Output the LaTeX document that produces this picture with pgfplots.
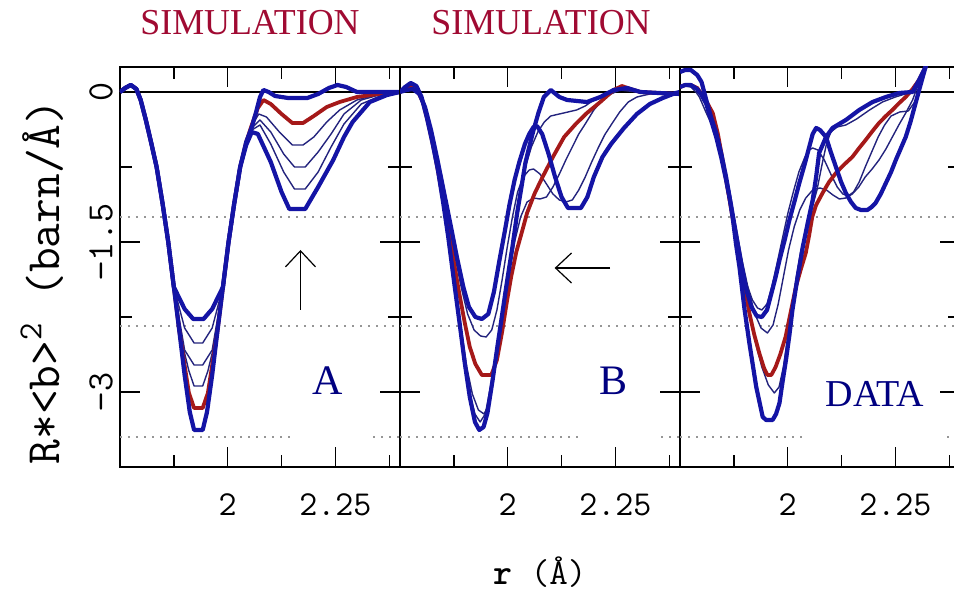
\documentclass[border=0pt]{standalone}
\usepackage{fontspec}
\setmainfont{Liberation Serif}
\usepackage{pgfplots}
\pgfplotsset{compat=1.18}
\usetikzlibrary{arrows.meta}
\definecolor{thickblue}{RGB}{20,20,165}
\definecolor{thinblue}{RGB}{35,35,125}
\definecolor{curvered}{RGB}{165,25,25}
\definecolor{simred}{RGB}{160,10,50}
\definecolor{labblue}{RGB}{0,0,128}
\definecolor{dotgray}{RGB}{150,150,150}
\pgfplotsset{
 panel/.style={
  scale only axis, width=140pt, height=200pt, anchor=south west,
  xmin=1.75, xmax=2.4, ymin=-3.75, ymax=0.25,
  xtick={2,2.25}, minor xtick={1.875,2.125,2.375},
  ytick={-3,-1.5,0}, minor ytick={-2.25,-0.75},
  tick align=inside, major tick length=10pt, minor tick length=6pt,
  tick style={black, line width=0.7pt},
  axis line style={line width=1pt},
  xticklabels={2,2.25},
  xticklabel style={font=\ttfamily\fontsize{17.5}{18}\selectfont, yshift=-10pt},
  yticklabels={,,},
  clip=true,
 },
 thickc/.style={thickblue, line width=2.1pt, line join=round},
 redc/.style={curvered, line width=1.9pt, line join=round},
 thinc/.style={thinblue, line width=0.7pt, line join=round},
 dotl/.style={dotgray, line width=0.6pt, dash pattern=on 1pt off 3pt},
 zerol/.style={black, line width=0.8pt},
}
\begin{document}
\begin{tikzpicture}
% ---------------- Panel A ----------------
\begin{axis}[panel, at={(60pt,63pt)},
  yticklabels={\textminus 3,\textminus 1.5,0},
  yticklabel style={rotate=90, anchor=south, font=\ttfamily\fontsize{18.5}{18.5}\selectfont}]
\addplot[zerol] coordinates {(1.75,0) (2.4,0)};
\addplot[dotl] coordinates {(1.75,-1.25) (2.4,-1.25)};
\addplot[dotl] coordinates {(1.75,-2.34) (2.4,-2.34)};
\addplot[dotl] coordinates {(1.75,-3.45) (2.15,-3.45)};
\addplot[dotl] coordinates {(2.338,-3.45) (2.4,-3.45)};
% thin curves
\addplot[thinc] coordinates {(1.75,0.00) (1.762,0.04) (1.775,0.07) (1.788,0.03) (1.798,-0.08) (1.81,-0.28) (1.822,-0.5) (1.835,-0.75) (1.849,-1.12) (1.862,-1.5) (1.875,-1.95) (1.888,-2.4) (1.91,-2.79) (1.922,-2.94) (1.942,-2.94) (1.954,-2.79) (1.976,-2.4) (1.989,-1.95) (2.002,-1.5) (2.015,-1.12) (2.029,-0.75) (2.043,-0.5) (2.056,-0.34) (2.072,-0.22) (2.09,-0.25) (2.12,-0.4) (2.15,-0.53) (2.175,-0.53) (2.2,-0.45) (2.23,-0.3) (2.26,-0.18) (2.3,-0.08) (2.35,-0.02) (2.4,0.0)};
\addplot[thinc] coordinates {(1.75,0.00) (1.762,0.04) (1.775,0.07) (1.788,0.03) (1.798,-0.08) (1.81,-0.28) (1.822,-0.5) (1.835,-0.75) (1.849,-1.12) (1.862,-1.5) (1.875,-1.95) (1.90,-2.58) (1.922,-2.73) (1.942,-2.73) (1.964,-2.58) (1.989,-1.95) (2.002,-1.5) (2.015,-1.12) (2.029,-0.75) (2.043,-0.5) (2.056,-0.36) (2.075,-0.28) (2.1,-0.4) (2.13,-0.62) (2.155,-0.75) (2.18,-0.75) (2.21,-0.6) (2.24,-0.42) (2.27,-0.22) (2.31,-0.08) (2.36,-0.02) (2.4,0.0)};
\addplot[thinc] coordinates {(1.75,0.00) (1.762,0.04) (1.775,0.07) (1.788,0.03) (1.798,-0.08) (1.81,-0.28) (1.822,-0.5) (1.835,-0.75) (1.849,-1.12) (1.862,-1.5) (1.875,-1.95) (1.90,-2.36) (1.922,-2.51) (1.942,-2.51) (1.964,-2.36) (1.989,-1.95) (2.002,-1.5) (2.015,-1.12) (2.029,-0.75) (2.043,-0.52) (2.056,-0.38) (2.075,-0.33) (2.1,-0.52) (2.13,-0.8) (2.155,-0.97) (2.18,-0.97) (2.21,-0.8) (2.24,-0.55) (2.27,-0.32) (2.31,-0.12) (2.36,-0.03) (2.4,0.0)};
% red
\addplot[redc] coordinates {(1.75,0.00) (1.762,0.04) (1.775,0.07) (1.788,0.03) (1.798,-0.08) (1.81,-0.28) (1.822,-0.5) (1.835,-0.75) (1.849,-1.12) (1.862,-1.5) (1.875,-1.95) (1.888,-2.4) (1.91,-3.01) (1.922,-3.16) (1.942,-3.16) (1.954,-3.01) (1.976,-2.4) (1.989,-1.95) (2.002,-1.5) (2.015,-1.12) (2.029,-0.75) (2.043,-0.5) (2.056,-0.33) (2.07,-0.16) (2.083,-0.08) (2.1,-0.12) (2.125,-0.22) (2.15,-0.31) (2.175,-0.31) (2.2,-0.24) (2.23,-0.15) (2.26,-0.1) (2.3,-0.05) (2.35,-0.02) (2.4,0.0)};
% thick
\addplot[thickc] coordinates {(1.75,0.00) (1.762,0.04) (1.775,0.07) (1.788,0.03) (1.798,-0.08) (1.81,-0.28) (1.822,-0.5) (1.835,-0.75) (1.849,-1.12) (1.862,-1.5) (1.875,-1.95) (1.888,-2.4) (1.90,-2.83) (1.912,-3.2) (1.922,-3.38) (1.942,-3.38) (1.952,-3.2) (1.964,-2.83) (1.976,-2.4) (1.989,-1.95) (2.002,-1.5) (2.015,-1.12) (2.029,-0.75) (2.043,-0.5) (2.056,-0.35) (2.066,-0.2) (2.075,-0.05) (2.083,0.02) (2.095,0.0) (2.11,-0.04) (2.14,-0.06) (2.185,-0.06) (2.21,-0.02) (2.235,0.04) (2.255,0.07) (2.275,0.05) (2.3,0.0) (2.35,0.0) (2.4,0.0)};
\addplot[thickc] coordinates {(1.75,0.00) (1.762,0.04) (1.775,0.07) (1.788,0.03) (1.798,-0.08) (1.81,-0.28) (1.822,-0.5) (1.835,-0.75) (1.849,-1.12) (1.862,-1.5) (1.875,-1.95) (1.90,-2.17) (1.92,-2.27) (1.944,-2.27) (1.964,-2.17) (1.989,-1.95) (2.002,-1.5) (2.015,-1.12) (2.029,-0.75) (2.043,-0.53) (2.056,-0.4) (2.07,-0.42) (2.1,-0.7) (2.125,-1.0) (2.143,-1.17) (2.18,-1.17) (2.21,-0.95) (2.245,-0.68) (2.27,-0.45) (2.29,-0.3) (2.33,-0.1) (2.37,-0.03) (2.4,0.0)};
\draw[black, line width=0.6pt, -{Straight Barb[length=8pt,width=15pt]}] (axis cs:2.169,-2.18) -- (axis cs:2.169,-1.58);
\node[anchor=base, text=labblue, font=\fontsize{21}{21}\selectfont] at (axis cs:2.2315,-3.03) {A};
\end{axis}
% ---------------- Panel B ----------------
\begin{axis}[panel, at={(200pt,63pt)}]
\addplot[zerol] coordinates {(1.75,0) (2.4,0)};
\addplot[dotl] coordinates {(1.75,-1.25) (2.4,-1.25)};
\addplot[dotl] coordinates {(1.75,-2.34) (2.4,-2.34)};
\addplot[dotl] coordinates {(1.75,-3.45) (2.169,-3.45)};
\addplot[dotl] coordinates {(2.356,-3.45) (2.4,-3.45)};
% thin
\addplot[thinc] coordinates {(1.75,0.0) (1.762,0.04) (1.775,0.07) (1.788,0.04) (1.8,-0.06) (1.813,-0.27) (1.827,-0.55) (1.84,-0.85) (1.853,-1.18) (1.866,-1.55) (1.879,-1.95) (1.892,-2.37) (1.905,-2.75) (1.918,-3.02) (1.932,-3.18) (1.945,-3.22) (1.957,-3.12) (1.968,-2.85) (1.98,-2.5) (1.992,-2.15) (2.004,-1.8) (2.016,-1.5) (2.03,-1.25) (2.045,-1.1) (2.06,-1.06) (2.075,-1.07) (2.09,-1.05) (2.105,-0.95) (2.12,-0.82) (2.135,-0.68) (2.15,-0.55) (2.165,-0.42) (2.18,-0.32) (2.2,-0.18) (2.22,-0.08) (2.24,-0.02) (2.26,0.02) (2.3,0.0) (2.35,-0.01) (2.4,-0.02)};
\addplot[thinc] coordinates {(1.75,0.0) (1.763,0.02) (1.777,0.03) (1.79,0.0) (1.803,-0.12) (1.817,-0.34) (1.832,-0.64) (1.847,-0.97) (1.862,-1.3) (1.877,-1.63) (1.892,-1.95) (1.907,-2.22) (1.922,-2.38) (1.937,-2.44) (1.95,-2.45) (1.963,-2.38) (1.975,-2.18) (1.987,-1.88) (1.999,-1.55) (2.011,-1.25) (2.023,-1.0) (2.036,-0.85) (2.05,-0.78) (2.06,-0.77) (2.075,-0.82) (2.09,-0.92) (2.105,-1.02) (2.12,-1.08) (2.135,-1.1) (2.15,-1.08) (2.165,-0.98) (2.18,-0.85) (2.195,-0.7) (2.21,-0.56) (2.225,-0.43) (2.24,-0.33) (2.26,-0.2) (2.28,-0.1) (2.3,-0.05) (2.33,-0.02) (2.4,-0.01)};
\addplot[thinc] coordinates {(1.75,0.0) (1.762,0.05) (1.775,0.09) (1.788,0.06) (1.8,-0.05) (1.812,-0.25) (1.825,-0.5) (1.838,-0.78) (1.85,-1.1) (1.862,-1.45) (1.875,-1.88) (1.888,-2.3) (1.9,-2.7) (1.912,-3.02) (1.924,-3.22) (1.936,-3.3) (1.948,-3.22) (1.96,-2.95) (1.972,-2.62) (1.985,-2.25) (1.997,-1.92) (2.009,-1.6) (2.02,-1.28) (2.031,-1.0) (2.041,-0.75) (2.055,-0.55) (2.07,-0.4) (2.085,-0.3) (2.1,-0.24) (2.12,-0.22) (2.14,-0.2) (2.16,-0.18) (2.18,-0.14) (2.2,-0.08) (2.225,-0.02) (2.25,0.02) (2.28,0.02) (2.31,0.0) (2.4,-0.02)};
% red
\addplot[redc] coordinates {(1.75,0.0) (1.765,0.03) (1.778,0.05) (1.79,0.02) (1.803,-0.1) (1.816,-0.32) (1.83,-0.6) (1.845,-0.95) (1.86,-1.32) (1.873,-1.65) (1.887,-2.0) (1.9,-2.3) (1.912,-2.55) (1.925,-2.72) (1.94,-2.83) (1.962,-2.83) (1.975,-2.68) (1.987,-2.4) (1.998,-2.1) (2.008,-1.85) (2.02,-1.6) (2.033,-1.4) (2.045,-1.21) (2.062,-1.02) (2.081,-0.85) (2.105,-0.65) (2.131,-0.45) (2.158,-0.32) (2.184,-0.21) (2.215,-0.1) (2.246,0.02) (2.265,0.06) (2.285,0.03) (2.308,0.0) (2.35,-0.01) (2.4,-0.02)};
% thick
\addplot[thickc] coordinates {(1.75,0.0) (1.762,0.05) (1.775,0.09) (1.788,0.06) (1.8,-0.05) (1.812,-0.25) (1.825,-0.5) (1.838,-0.78) (1.85,-1.1) (1.862,-1.45) (1.875,-1.88) (1.888,-2.3) (1.9,-2.7) (1.912,-3.05) (1.924,-3.3) (1.934,-3.38) (1.944,-3.35) (1.953,-3.21) (1.965,-2.88) (1.976,-2.55) (1.988,-2.2) (1.999,-1.88) (2.011,-1.55) (2.022,-1.21) (2.032,-0.95) (2.041,-0.71) (2.05,-0.55) (2.06,-0.38) (2.072,-0.2) (2.084,-0.05) (2.1,0.02) (2.12,-0.05) (2.138,-0.08) (2.184,-0.1) (2.215,-0.05) (2.246,0.02) (2.277,0.04) (2.308,0.0) (2.35,-0.01) (2.4,-0.02)};
\addplot[thickc] coordinates {(1.75,0.0) (1.765,0.02) (1.78,0.03) (1.795,-0.02) (1.808,-0.15) (1.822,-0.38) (1.837,-0.68) (1.852,-1.0) (1.867,-1.32) (1.882,-1.65) (1.897,-1.95) (1.91,-2.15) (1.925,-2.25) (1.94,-2.27) (1.955,-2.22) (1.968,-2.0) (1.981,-1.68) (1.993,-1.4) (2.004,-1.13) (2.016,-0.88) (2.027,-0.7) (2.04,-0.52) (2.05,-0.42) (2.06,-0.35) (2.068,-0.34) (2.08,-0.42) (2.095,-0.62) (2.11,-0.85) (2.125,-1.05) (2.14,-1.16) (2.17,-1.16) (2.185,-1.05) (2.2,-0.85) (2.22,-0.65) (2.24,-0.52) (2.27,-0.36) (2.3,-0.22) (2.33,-0.12) (2.36,-0.06) (2.39,-0.01) (2.4,0.0)};
\draw[black, line width=0.6pt, -{Straight Barb[length=8pt,width=15pt]}] (axis cs:2.238,-1.76) -- (axis cs:2.109,-1.76);
\node[anchor=base, text=labblue, font=\fontsize{21}{21}\selectfont] at (axis cs:2.2465,-3.03) {B};
\end{axis}
% ---------------- Panel C ----------------
\begin{axis}[panel, at={(340pt,63pt)}]
\addplot[zerol] coordinates {(1.75,0) (2.4,0)};
\addplot[dotl] coordinates {(1.75,-1.25) (2.4,-1.25)};
\addplot[dotl] coordinates {(1.75,-2.34) (2.4,-2.34)};
\addplot[dotl] coordinates {(1.75,-3.45) (2.034,-3.45)};
\addplot[dotl] coordinates {(2.37,-3.45) (2.4,-3.45)};
% thin
\addplot[thinc] coordinates {(1.75,0.05) (1.762,0.06) (1.775,0.05) (1.787,0.0) (1.795,-0.05) (1.81,-0.2) (1.826,-0.35) (1.84,-0.55) (1.853,-0.8) (1.866,-1.08) (1.879,-1.38) (1.892,-1.68) (1.905,-1.92) (1.918,-2.08) (1.93,-2.16) (1.94,-2.18) (1.952,-2.12) (1.963,-1.95) (1.975,-1.72) (1.987,-1.48) (2.0,-1.22) (2.013,-1.0) (2.026,-0.8) (2.04,-0.65) (2.05,-0.58) (2.058,-0.56) (2.07,-0.58) (2.085,-0.68) (2.1,-0.82) (2.115,-0.95) (2.128,-1.02) (2.14,-1.04) (2.153,-1.0) (2.166,-0.9) (2.18,-0.75) (2.195,-0.6) (2.21,-0.45) (2.225,-0.33) (2.24,-0.24) (2.26,-0.2) (2.28,-0.19) (2.295,-0.1) (2.308,0.05) (2.32,0.25) (2.334,0.45)};
\addplot[thinc] coordinates {(1.75,0.05) (1.762,0.07) (1.775,0.07) (1.79,0.03) (1.8,-0.02) (1.812,-0.13) (1.826,-0.3) (1.84,-0.52) (1.854,-0.78) (1.868,-1.08) (1.882,-1.4) (1.896,-1.72) (1.91,-2.0) (1.924,-2.22) (1.938,-2.36) (1.953,-2.41) (1.966,-2.33) (1.978,-2.12) (1.99,-1.85) (2.002,-1.58) (2.015,-1.35) (2.028,-1.18) (2.042,-1.06) (2.058,-0.98) (2.075,-0.96) (2.09,-0.98) (2.105,-1.03) (2.12,-1.07) (2.135,-1.06) (2.15,-1.02) (2.165,-0.95) (2.18,-0.85) (2.196,-0.77) (2.212,-0.68) (2.228,-0.57) (2.243,-0.45) (2.258,-0.33) (2.274,-0.21) (2.29,-0.08) (2.305,0.1) (2.32,0.25) (2.334,0.45)};
\addplot[thinc] coordinates {(1.75,0.05) (1.762,0.07) (1.775,0.07) (1.79,0.04) (1.8,-0.02) (1.812,-0.11) (1.826,-0.24) (1.838,-0.44) (1.85,-0.7) (1.862,-1.0) (1.875,-1.32) (1.888,-1.65) (1.9,-1.95) (1.913,-2.25) (1.926,-2.52) (1.94,-2.75) (1.955,-2.93) (1.969,-3.01) (1.98,-2.95) (1.99,-2.75) (2.0,-2.45) (2.01,-2.15) (2.02,-1.85) (2.03,-1.6) (2.042,-1.38) (2.055,-1.18) (2.068,-0.98) (2.08,-0.72) (2.09,-0.52) (2.1,-0.4) (2.115,-0.35) (2.135,-0.33) (2.16,-0.27) (2.19,-0.18) (2.22,-0.1) (2.25,-0.05) (2.28,-0.01) (2.295,0.02) (2.308,0.1) (2.32,0.25) (2.334,0.45)};
% red
\addplot[redc] coordinates {(1.75,0.05) (1.762,0.07) (1.775,0.07) (1.79,0.04) (1.8,-0.02) (1.812,-0.1) (1.826,-0.21) (1.838,-0.42) (1.849,-0.68) (1.857,-0.88) (1.865,-1.08) (1.877,-1.38) (1.888,-1.68) (1.9,-1.95) (1.911,-2.21) (1.922,-2.42) (1.934,-2.61) (1.945,-2.76) (1.953,-2.83) (1.962,-2.83) (1.972,-2.75) (1.983,-2.62) (1.995,-2.45) (2.007,-2.2) (2.019,-1.95) (2.03,-1.78) (2.042,-1.61) (2.05,-1.43) (2.057,-1.25) (2.066,-1.13) (2.081,-1.01) (2.096,-0.9) (2.112,-0.81) (2.13,-0.73) (2.15,-0.65) (2.166,-0.56) (2.181,-0.48) (2.197,-0.39) (2.212,-0.31) (2.228,-0.24) (2.243,-0.18) (2.259,-0.11) (2.274,-0.05) (2.29,0.03) (2.305,0.12) (2.32,0.25) (2.334,0.45)};
% thick
\addplot[thickc] coordinates {(1.75,0.2) (1.762,0.22) (1.775,0.22) (1.79,0.17) (1.8,0.1) (1.811,-0.08) (1.822,-0.25) (1.834,-0.41) (1.846,-0.62) (1.857,-0.85) (1.865,-1.05) (1.873,-1.28) (1.88,-1.52) (1.888,-1.75) (1.9,-2.18) (1.911,-2.51) (1.927,-2.95) (1.942,-3.25) (1.95,-3.28) (1.965,-3.28) (1.973,-3.22) (1.981,-3.11) (1.988,-2.9) (1.996,-2.68) (2.004,-2.43) (2.011,-2.18) (2.023,-1.85) (2.035,-1.55) (2.047,-1.3) (2.058,-1.08) (2.066,-0.85) (2.073,-0.61) (2.089,-0.45) (2.104,-0.36) (2.135,-0.28) (2.166,-0.18) (2.197,-0.1) (2.228,-0.05) (2.259,-0.01) (2.29,0.0) (2.305,0.12) (2.32,0.25) (2.334,0.45)};
\addplot[thickc] coordinates {(1.75,0.05) (1.762,0.07) (1.775,0.07) (1.79,0.03) (1.8,-0.03) (1.811,-0.12) (1.822,-0.28) (1.834,-0.45) (1.846,-0.66) (1.857,-0.88) (1.868,-1.12) (1.88,-1.42) (1.892,-1.72) (1.904,-1.98) (1.916,-2.15) (1.928,-2.24) (1.94,-2.25) (1.952,-2.18) (1.963,-2.0) (1.972,-1.85) (1.981,-1.68) (1.993,-1.48) (2.004,-1.28) (2.016,-1.09) (2.027,-0.91) (2.039,-0.73) (2.05,-0.55) (2.058,-0.42) (2.066,-0.36) (2.075,-0.38) (2.089,-0.45) (2.1,-0.6) (2.112,-0.75) (2.124,-0.9) (2.135,-1.01) (2.147,-1.1) (2.158,-1.16) (2.17,-1.18) (2.185,-1.18) (2.195,-1.15) (2.204,-1.11) (2.216,-1.02) (2.228,-0.91) (2.24,-0.8) (2.251,-0.68) (2.262,-0.57) (2.274,-0.45) (2.285,-0.3) (2.297,-0.11) (2.309,0.08) (2.32,0.25) (2.334,0.45)};
\node[anchor=base, text=labblue, font=\fontsize{19}{19}\selectfont] at (axis cs:2.203,-3.15) {DATA};
\end{axis}
% ---------------- titles and labels ----------------
\node[anchor=base, text=simred, font=\fontsize{16.6}{17}\selectfont, xscale=1.08, yscale=1.1] at (125pt,279pt) {SIMULATION};
\node[anchor=base, text=simred, font=\fontsize{16.6}{17}\selectfont, xscale=1.08, yscale=1.1] at (270.5pt,279pt) {SIMULATION};
\node[rotate=90, font=\ttfamily\fontsize{24}{24}\selectfont] at (21pt,155.5pt) {R*<b>\textsuperscript{2} (barn/Å)};
\node[font=\ttfamily\fontsize{18}{18}\selectfont] at (270pt,10.5pt) {\textbf{r} (Å)};
\pgfresetboundingbox
\path[use as bounding box] (0,0) rectangle (477pt,296.5pt);
\end{tikzpicture}
\end{document}
